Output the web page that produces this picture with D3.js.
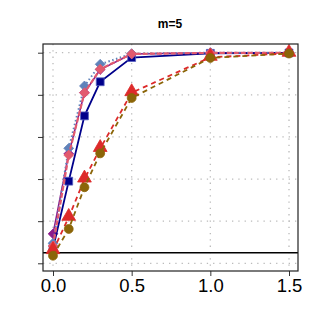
<!DOCTYPE html>
<html>
<head>
<meta charset="utf-8">
<script src="https://cdn.jsdelivr.net/npm/d3@7"></script>
<style>
  body { margin: 0; background: #fff; }
  text { font-family: "Liberation Sans", Arial, sans-serif; }
</style>
</head>
<body>
<div id="chart"></div>
<script>
"use strict";

// shift values on the x axis
var shifts = [0, 0.1, 0.2, 0.3, 0.5, 1.0, 1.5];
var xTicks = [0, 0.5, 1.0, 1.5];
var yTicks = [0, 0.2, 0.4, 0.6, 0.8, 1.0];
var alphaLevel = 0.05;
var title = "m=5";

// power per method
var purplePower = [0.14, 0.52, 0.81, 0.92, 0.994, 1.0, 1.0];
var navyPower = [0.07, 0.39, 0.70, 0.862, 0.977, 0.997, 0.999];
var steelPower = [0.095, 0.546, 0.842, 0.945, 0.995, 1.0, 1.0];
var pinkPower = [0.082, 0.514, 0.81, 0.922, 0.994, 0.999, 0.999];
var redPower = [0.06, 0.218, 0.40, 0.545, 0.81, 0.978, 0.997];
var olivePower = [0.036, 0.163, 0.361, 0.522, 0.785, 0.975, 0.996];

var specs = {
    width: 321,
    height: 327,
    left: 43,
    right: 298,
    top: 44,
    bottom: 271
};

var series = [
    { values: purplePower, color: "#8B1A8B", dash: null, width: 1.5, shape: "diamond", size: 60 },
    { values: navyPower, color: "#00008B", dash: null, width: 1.8, shape: "square", size: 62 },
    { values: steelPower, color: "#5F82BA", dash: "1.5,2.5", width: 2, shape: "diamond", size: 62 },
    { values: pinkPower, color: "#E25A6E", dash: "5,2", width: 2.2, shape: "diamond", size: 62 },
    { values: redPower, color: "#DD2A2A", dash: "5,4", width: 1.8, shape: "triangle", size: 82 },
    { values: olivePower, color: "#8B6508", dash: "5,4", width: 1.8, shape: "circle", size: 62 }
];

var svg = d3.select("#chart").append("svg")
    .attr("width", specs.width)
    .attr("height", specs.height);

var x = d3.scaleLinear().domain([0, 1.5]).range([53, 289]);
var y = d3.scaleLinear().domain([0, 1]).range([263.3, 52.7]);

// dotted grid
svg.append("g").selectAll("line")
    .data(xTicks)
    .enter().append("line")
    .attr("x1", function(d) { return x(d); })
    .attr("x2", function(d) { return x(d); })
    .attr("y1", specs.top)
    .attr("y2", specs.bottom)
    .attr("stroke", "#bbbbbb")
    .attr("stroke-width", 1.3)
    .attr("stroke-dasharray", "1.3,5");

svg.append("g").selectAll("line")
    .data(yTicks)
    .enter().append("line")
    .attr("x1", specs.left)
    .attr("x2", specs.right)
    .attr("y1", function(d) { return y(d); })
    .attr("y2", function(d) { return y(d); })
    .attr("stroke", "#bbbbbb")
    .attr("stroke-width", 1.3)
    .attr("stroke-dasharray", "1.3,5");

// axes
var xAxis = d3.axisBottom(x).tickValues(xTicks).tickSize(5).tickPadding(3)
    .tickFormat(d3.format(".1f"));
var gx = svg.append("g")
    .attr("transform", "translate(0," + specs.bottom + ")")
    .call(xAxis);
gx.select(".domain").remove();
gx.selectAll("line").attr("stroke", "#333");
gx.selectAll("text")
    .style("font-size", "18.5px")
    .attr("fill", "#000")
    .attr("font-family", "Liberation Sans, Arial, sans-serif");

var yAxis = d3.axisLeft(y).tickValues(yTicks).tickSize(5).tickFormat("");
var gy = svg.append("g")
    .attr("transform", "translate(" + specs.left + ",0)")
    .call(yAxis);
gy.select(".domain").remove();
gy.selectAll("line").attr("stroke", "#333");

// alpha reference line
svg.append("line")
    .attr("x1", specs.left)
    .attr("x2", specs.right)
    .attr("y1", y(alphaLevel))
    .attr("y2", y(alphaLevel))
    .attr("stroke", "#000")
    .attr("stroke-width", 1.3);

// lines and points
var line = d3.line()
    .x(function(d, i) { return x(shifts[i]); })
    .y(function(d) { return y(d); });

function symbolType(shape) {
    switch (shape) {
        case "square":
            return d3.symbolSquare;
        case "triangle":
            return d3.symbolTriangle;
        case "circle":
            return d3.symbolCircle;
        default:
            return d3.symbolDiamond2;
    }
}

series.forEach(function(s) {
    var g = svg.append("g");
    g.append("path")
        .datum(s.values)
        .attr("d", line)
        .attr("fill", "none")
        .attr("stroke", s.color)
        .attr("stroke-width", s.width)
        .attr("stroke-dasharray", s.dash);

    var sym = d3.symbol().type(symbolType(s.shape)).size(s.size);
    g.selectAll(".pt")
        .data(s.values)
        .enter().append("path")
        .attr("class", "pt")
        .attr("transform", function(d, i) {
            var dy = s.shape === "triangle" ? -1 : 0;
            return "translate(" + x(shifts[i]) + "," + (y(d) + dy) + ")";
        })
        .attr("d", sym)
        .attr("fill", s.color)
        .attr("stroke", s.shape === "square" ? "#5560c0" : s.color)
        .attr("stroke-width", 0.8);
});

// frame
svg.append("rect")
    .attr("x", specs.left)
    .attr("y", specs.top)
    .attr("width", specs.right - specs.left)
    .attr("height", specs.bottom - specs.top)
    .attr("fill", "none")
    .attr("stroke", "#222")
    .attr("stroke-width", 1.2);

// title
svg.append("text")
    .attr("x", 170)
    .attr("y", 28)
    .attr("text-anchor", "middle")
    .style("font-size", "12px")
    .style("font-weight", "bold")
    .text(title);
</script>
</body>
</html>
